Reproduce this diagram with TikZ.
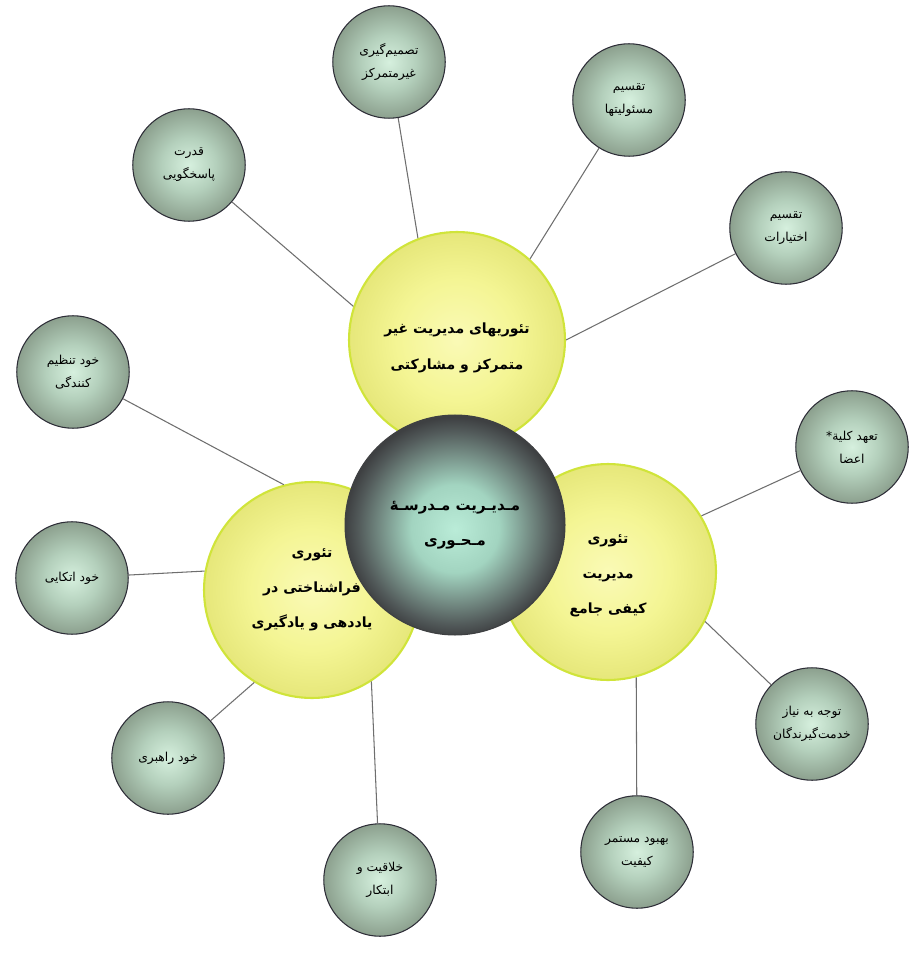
\documentclass[tikz,border=0pt]{standalone}
\usepackage{fontspec}
\newfontfamily\arabicfont[Script=Arabic]{DejaVu Sans}
\TeXXeTstate=1
\newcommand{\rtl}[1]{\beginR #1\endR}

\definecolor{aspectin}{RGB}{214,240,222}
\definecolor{aspectmid}{RGB}{180,208,188}
\definecolor{aspectout}{RGB}{140,160,142}
\definecolor{aspectline}{RGB}{45,45,55}
\definecolor{theoryin}{RGB}{250,250,182}
\definecolor{theorymid}{RGB}{244,245,148}
\definecolor{theoryout}{RGB}{230,231,122}
\definecolor{theoryline}{RGB}{208,228,58}
\definecolor{corein}{RGB}{186,236,216}
\definecolor{corelight}{RGB}{162,212,192}
\definecolor{coremid}{RGB}{116,140,132}
\definecolor{coredim}{RGB}{82,90,90}
\definecolor{coreout}{RGB}{62,64,66}
\definecolor{linkgray}{RGB}{110,110,110}

\pgfdeclareradialshading{aspectshade}{\pgfpoint{0bp}{0bp}}{color(0bp)=(aspectin); color(12bp)=(aspectmid); color(25bp)=(aspectout); color(50bp)=(aspectout)}
\pgfdeclareradialshading{theoryshade}{\pgfpoint{0bp}{0bp}}{color(0bp)=(theoryin); color(14bp)=(theorymid); color(25bp)=(theoryout); color(50bp)=(theoryout)}
\pgfdeclareradialshading{coreshade}{\pgfpoint{0bp}{-1bp}}{color(0bp)=(corein); color(10bp)=(corelight); color(17bp)=(coremid); color(22bp)=(coredim); color(25bp)=(coreout); color(50bp)=(coreout)}

\begin{document}
\begin{tikzpicture}[
    x = 0.02cm, y = -0.02cm, % pixel grid of the scan
    semithick
    ]

    \tikzset{
    aspect/.style = {circle, draw = aspectline, line width = 0.6pt,
        shade, shading = aspectshade,
        minimum size = 2.25cm, inner sep = 0pt, align = center,
        font = \arabicfont\fontsize{7}{13}\selectfont},
    theory/.style = {circle, draw = theoryline, line width = 1.2pt,
        shade, shading = theoryshade,
        minimum size = 4.32cm, inner sep = 0pt, align = center,
        font = \arabicfont\bfseries\fontsize{8}{20}\selectfont},
    core/.style = {circle, draw = coreout, line width = 0.6pt,
        shade, shading = coreshade,
        minimum size = 4.4cm, inner sep = 0pt, align = center,
        font = \arabicfont\bfseries\fontsize{8.5}{20}\selectfont},
    link/.style = {draw = linkgray, line width = 0.6pt}
    }

    \useasboundingbox (0,0) rectangle (909,962);

    % theories
    \node[theory] (t1) at (457,340) {\\[-5pt]\rtl{تئوریهای مدیریت غیر}\\\rtl{متمرکز و مشارکتی}};
    \node[theory] (t2) at (312,590) {\rtl{تئوری}\\\rtl{فراشناختی در}\\\rtl{یاددهی و یادگیری}};
    \node[theory] (t3) at (608,572) {\\[-11pt]\rtl{تئوری}\\\rtl{مدیریت}\\\rtl{کیفی جامع}};
    \node[core] (c) at (455,525) {\rtl{مـدیـریت مـدرسـهٔ}\\\rtl{مـحـوری}};

    % aspects
    \node[aspect] (a1) at (389,62) {\rtl{تصمیم‌گیری}\\\rtl{غیرمتمرکز}};
    \node[aspect] (a2) at (629,100) {\rtl{تقسیم}\\\rtl{مسئولیتها}};
    \node[aspect] (a3) at (189,165) {\rtl{قدرت}\\\rtl{پاسخگویی}};
    \node[aspect] (a4) at (786,228) {\rtl{تقسیم}\\\rtl{اختیارات}};
    \node[aspect] (a5) at (73,372) {\rtl{خود تنظیم}\\\rtl{کنندگی}};
    \node[aspect] (a6) at (72,578) {\rtl{خود اتکایی}};
    \node[aspect] (a7) at (168,758) {\rtl{خود راهبری}};
    \node[aspect] (a8) at (380,880) {\rtl{خلاقیت و}\\\rtl{ابتکار}};
    \node[aspect] (a9) at (637,852) {\rtl{بهبود مستمر}\\\rtl{کیفیت}};
    \node[aspect] (a10) at (812,724) {\rtl{توجه به نیاز}\\\rtl{خدمت‌گیرندگان}};
    \node[aspect] (a11) at (852,447) {\rtl{تعهد کلیة*}\\\rtl{اعضا}};

    \path (a1) edge[link] (t1.111);
    \path (a2) edge[link] (t1.48);
    \path (a3) edge[link] (t1.162);
    \path (a4) edge[link] (t1.0);
    \path (a5) edge[link] (t2.105);
    \path (a6) edge[link] (t2.170);
    \path (a7) edge[link] (t2.-122);
    \path (a8) edge[link] (t2.-57);
    \path (a11) edge[link] (t3.31);
    \path (a10) edge[link] (t3.-27);
    \path (a9) edge[link] (t3.-75);
\end{tikzpicture}
\end{document}
